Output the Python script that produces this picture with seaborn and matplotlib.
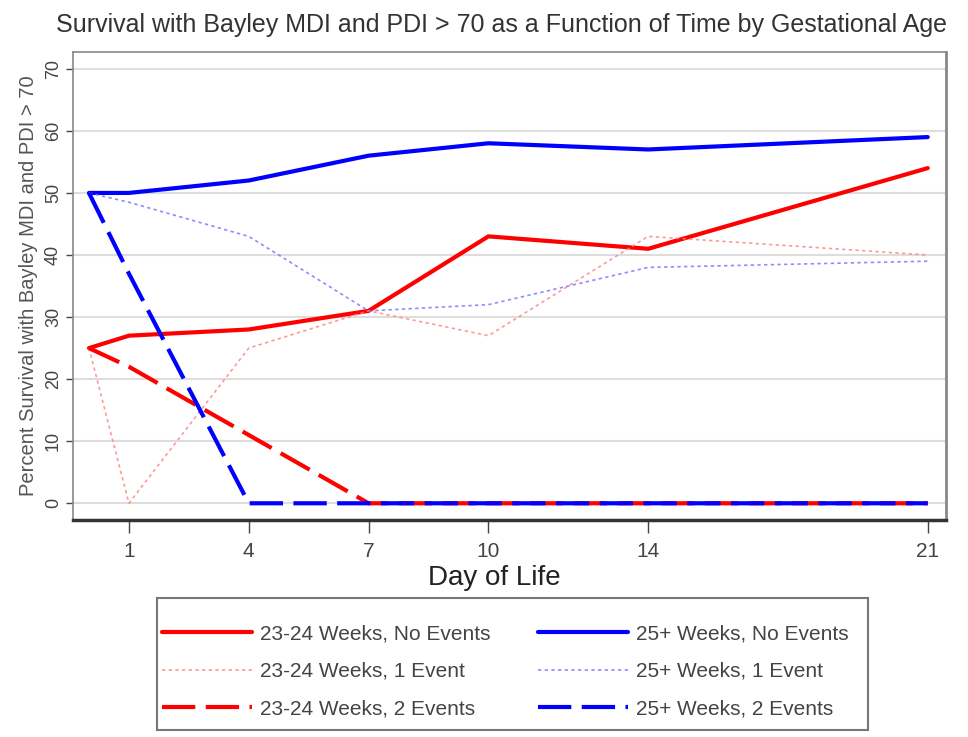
import matplotlib
matplotlib.use("Agg")
import matplotlib.pyplot as plt
from matplotlib.patches import Rectangle
import seaborn as sns
import pandas as pd

# data
days = [0, 1, 4, 7, 10, 14, 21]
young_none = [25, 27, 28, 31, 43, 41, 54]
young_one = [25, 0, 25, 31, 27, 43, 40]
young_two = [25, 22, 11, 0, 0, 0, 0]
old_none = [50, 50, 52, 56, 58, 57, 59]
old_one = [50, 48.5, 43, 31, 32, 38, 39]
old_two = [50, 37, 0, 0, 0, 0, 0]

x_ticks = [1, 4, 7, 10, 14, 21]
y_ticks = [0, 10, 20, 30, 40, 50, 60, 70]

series = [
    ("23-24 Weeks, No Events", young_none, "#ff0000", "-", 3.0, 1.0),
    ("23-24 Weeks, 1 Event", young_one, "#ff8080", (0, (2, 2)), 1.2, 0.8),
    ("23-24 Weeks, 2 Events", young_two, "#ff0000", (0, (8, 2.5)), 3.0, 1.0),
    ("25+ Weeks, No Events", old_none, "#0000ff", "-", 3.0, 1.0),
    ("25+ Weeks, 1 Event", old_one, "#7070ff", (0, (2, 2)), 1.2, 0.8),
    ("25+ Weeks, 2 Events", old_two, "#0000ff", (0, (8, 2.5)), 3.0, 1.0),
]

sns.set_style("white")
plt.rcParams["font.family"] = ["Liberation Sans", "DejaVu Sans"]

fig = plt.figure(figsize=(9.68, 7.37), dpi=100)
ax = fig.add_axes([0.0754, 0.2944, 0.9016, 0.635])

for label, vals, color, ls, lw, alpha in series:
    df = pd.DataFrame({"day": days, "pct": vals})
    sns.lineplot(data=df, x="day", y="pct", ax=ax, color=color, linestyle=ls,
                 linewidth=lw, alpha=alpha, label=label, legend=False)

ax.set_xlim(-0.4, 21.45)
ax.set_ylim(-2.7, 72.7)
ax.set_xticks(x_ticks)
ax.set_yticks(y_ticks)
ax.set_yticklabels([str(v) for v in y_ticks], rotation=90, va="center")
ax.yaxis.grid(True, color="#dddddd", linewidth=1.5)
ax.set_axisbelow(True)
ax.tick_params(axis="x", direction="out", length=9, width=1, color="#444444",
               labelcolor="#444444", labelsize=15, bottom=True, pad=7)
ax.tick_params(axis="y", direction="out", length=5, width=1, color="#444444",
               labelcolor="#444444", labelsize=13, left=True, pad=3)
for side in ["left", "top", "right"]:
    ax.spines[side].set_color("#888888")
    ax.spines[side].set_linewidth(1.2)
ax.spines["bottom"].set_color("#333333")
ax.spines["bottom"].set_linewidth(2.5)
ax.spines["right"].set_linewidth(2.0)

ax.set_xlabel("Day of Life", fontsize=20, color="#222222")
ax.xaxis.set_label_coords(0.483, -0.097)
ax.set_ylabel("Percent Survival with Bayley MDI and PDI > 70", fontsize=14.5,
              color="#555555", labelpad=5)
fig.suptitle("Survival with Bayley MDI and PDI > 70 as a Function of Time by Gestational Age",
             fontsize=18, color="#333333", x=0.518, y=0.983)

# legend box drawn separately so the padding can match the reference
fig.patches.append(Rectangle((0.162, 0.01), 0.735, 0.179, transform=fig.transFigure,
                             fill=False, edgecolor="#777777", linewidth=1.5))
handles, labels = ax.get_legend_handles_labels()
leg = fig.legend(handles, labels, ncol=2, loc="upper left",
                 bbox_to_anchor=(0.1674, 0.153),
                 fontsize=15, handlelength=4.3, handletextpad=0.4,
                 labelspacing=0.9, columnspacing=2.3, frameon=False,
                 borderpad=0, borderaxespad=0)
for t in leg.get_texts():
    t.set_color("#444444")

fig.savefig("out.png", dpi=100)
